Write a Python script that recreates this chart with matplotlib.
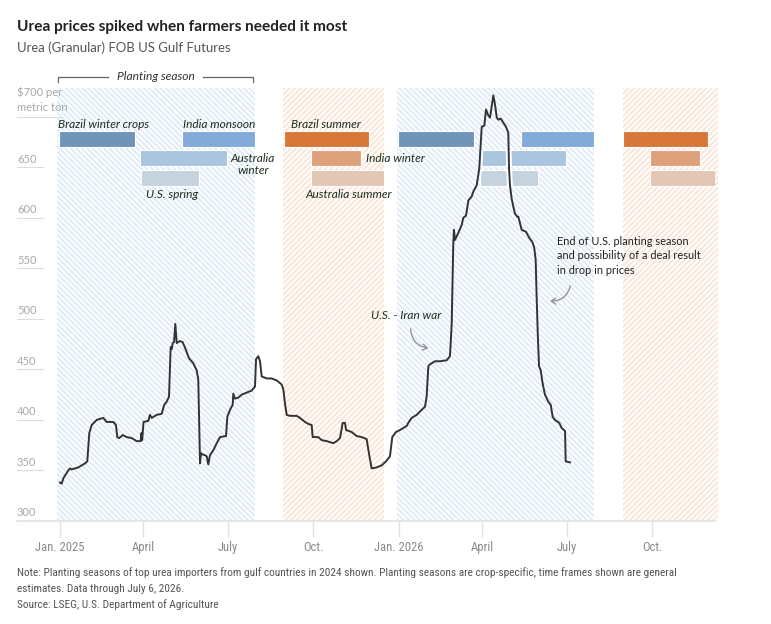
import matplotlib
matplotlib.use("Agg")
import matplotlib.pyplot as plt
import matplotlib.dates as mdates
import matplotlib.transforms as mtransforms
from matplotlib.lines import Line2D
from matplotlib.patches import FancyArrowPatch
from matplotlib import font_manager as fm
import pandas as pd

W, H = 771, 624

def pick(names):
    for n in names:
        try:
            fm.findfont(fm.FontProperties(family=n), fallback_to_default=False)
            return n
        except Exception:
            pass
    return "DejaVu Sans"

SANS = pick(["Lato", "Roboto", "Open Sans", "DejaVu Sans"])
NARROW = pick(["Liberation Sans Narrow", "Roboto Condensed", "Roboto", "DejaVu Sans"])
plt.rcParams["hatch.linewidth"] = 1.3

# ---------------- data ----------------
title = "Urea prices spiked when farmers needed it most"
subtitle = "Urea (Granular) FOB US Gulf Futures"
note = ("Note: Planting seasons of top urea importers from gulf countries in 2024 shown. "
        "Planting seasons are crop-specific, time frames shown are general")
note2 = "estimates. Data through July 6, 2026."
source = "Source: LSEG, U.S. Department of Agriculture"

base_date = pd.Timestamp("2025-01-01")
# days since Jan 1, 2025 and price ($ per metric ton)
price_days = [0.5, 2.4, 4.1, 5.9, 9.5, 11.3, 13.1, 20.2, 27.5, 29.9, 32.1, 34.7, 40.1, 47.2,
              50.8, 57.9, 60.8, 62.2, 64.4, 68.0, 72.4, 77.7, 83.1, 87.4, 88.3, 89.0, 90.5,
              95.6, 97.4, 99.3, 104.7, 110.0, 112.8, 115.4, 117.9, 119.7, 120.8, 121.9, 123.3,
              124.7, 126.2, 129.7, 132.6, 136.2, 139.4, 144.1, 147.7, 149.4, 151.3, 152.3,
              153.7, 156.7, 158.5, 160.2, 162.0, 165.6, 169.3, 172.8, 179.3, 180.7, 183.6,
              186.5, 187.1, 188.9, 192.5, 196.2, 201.6, 206.9, 210.5, 211.6, 214.0, 215.9,
              217.7, 223.1, 228.5, 233.9, 239.2, 241.0, 242.8, 244.6, 248.2, 255.4, 258.9,
              264.3, 267.9, 271.5, 272.6, 278.6, 282.3, 287.7, 294.8, 298.5, 302.0, 304.9,
              307.4, 308.5, 314.6, 320.0, 325.4, 330.7, 333.5, 336.1, 341.5, 346.9, 351.5,
              355.8, 358.3, 362.3, 366.6, 370.2, 373.8, 375.5, 379.2, 384.6, 390.0, 393.5,
              395.3, 397.1, 398.9, 404.3, 409.7, 416.9, 420.4, 421.2, 422.3, 423.3, 424.0,
              424.7, 425.8, 429.4, 433.1, 434.8, 437.7, 440.2, 443.8, 445.6, 449.2, 452.0,
              453.5, 454.6, 457.4, 459.2, 461.7, 463.5, 465.4, 467.1, 468.9, 470.8, 472.4,
              475.0, 478.6, 480.7, 483.2, 484.0, 485.0, 486.8, 489.3, 490.4, 492.9, 494.0,
              497.6, 502.3, 505.8, 509.1, 511.2, 512.7, 513.8, 514.9, 516.3, 518.1, 520.2,
              522.7, 526.3, 528.9, 531.0, 533.5, 538.1, 540.7, 544.3, 545.0, 549.6]
price_values = [338, 337, 342, 345, 350, 352, 351, 353, 357, 359, 387, 395, 400, 402,
                398, 398, 395, 383, 382, 385, 383, 382, 379, 379, 387, 380, 398,
                399, 405, 402, 405, 406, 415, 418, 423, 472, 470, 476, 477,
                495, 476, 478, 477, 469, 461, 456, 449, 440, 357, 367,
                366, 365, 364, 356, 365, 370, 377, 383, 384, 403, 410,
                415, 426, 421, 422, 425, 427, 429, 433, 460, 463, 458,
                443, 441, 441, 439, 435, 430, 416, 405, 404, 404, 402,
                398, 396, 395, 383, 383, 380, 379, 377, 379, 382, 397,
                397, 390, 388, 384, 383, 381, 365, 352, 353, 355, 359,
                364, 383, 388, 390, 392, 394, 397, 402, 405, 410, 413,
                423, 453, 455, 458, 458, 459, 463, 476, 496, 542, 575,
                588, 578, 585, 593, 600, 602, 617, 621, 626, 632, 649,
                672, 690, 691, 707, 701, 699, 711, 721, 712, 699, 697,
                698, 693, 690, 684, 649, 632, 619, 608, 604, 601, 601,
                588, 586, 580, 576, 570, 558, 519, 486, 453, 449, 436,
                425, 418, 415, 403, 400, 397, 392, 389, 359, 358]

# shaded planting-season windows
span_start = ["2024-12-29", "2025-08-30", "2025-12-30", "2026-08-31"]
span_end = ["2025-07-30", "2025-12-16", "2026-07-30", "2026-12-11"]
span_hemisphere = ["north", "south", "north", "south"]

# planting seasons (bars)
season_names = ["Brazil winter crops", "India monsoon", "Australia winter", "U.S. spring",
                "Brazil summer", "India winter", "Australia summer"]
season_start_2025 = ["2024-12-31", "2025-05-13", "2025-03-29", "2025-03-30",
                     "2025-08-31", "2025-09-29", "2025-09-29"]
season_end_2025 = ["2025-03-23", "2025-07-30", "2025-06-30", "2025-05-31",
                   "2025-11-30", "2025-11-22", "2025-12-16"]
season_start_2026 = ["2025-12-31", "2026-05-13", "2026-03-29", "2026-03-30",
                     "2026-08-31", "2026-09-29", "2026-09-29"]
season_end_2026 = ["2026-03-23", "2026-07-30", "2026-06-30", "2026-05-31",
                   "2026-11-30", "2026-11-22", "2026-12-11"]

y_ticks = [300, 350, 400, 450, 500, 550, 600, 650]
x_tick_dates = ["2025-01-01", "2025-04-01", "2025-07-01", "2025-10-01",
                "2026-01-01", "2026-04-01", "2026-07-01", "2026-10-01"]
x_tick_labels = ["Jan. 2025", "April", "July", "Oct.", "Jan. 2026", "April", "July", "Oct."]

# ---------------- styles ----------------
season_colors = {"Brazil winter crops": "#7095b8", "India monsoon": "#82abd9",
                 "Australia winter": "#aac5df", "U.S. spring": "#c5d3df",
                 "Brazil summer": "#d8773a", "India winter": "#dea17c",
                 "Australia summer": "#e3c6b3"}
season_rows = {"Brazil winter crops": (669.6, 685.3), "India monsoon": (669.6, 685.3),
               "Brazil summer": (669.6, 685.3),
               "Australia winter": (651.2, 667.0), "India winter": (651.2, 667.0),
               "U.S. spring": (631.4, 647.2), "Australia summer": (631.4, 647.2)}
span_style = {"north": ("#dfeaf7", "\\\\\\\\\\\\"), "south": ("#fae4d5", "//////")}
LABEL_C = "#1f2e1f"

def num(dates):
    return mdates.date2num(pd.to_datetime(pd.Series(dates)).dt.to_pydatetime())

def numd(days):
    return mdates.date2num((base_date + pd.to_timedelta(pd.Series(days), unit="D")).dt.to_pydatetime())

fig = plt.figure(figsize=(W / 100, H / 100), dpi=100)
ax = fig.add_axes([17 / W, 1 - 521 / H, 698 / W, (521 - 87.5) / H])
ax.set_ylim(300, 300 + 433.5 / 1.011)
x_left, x_right = numd([-45.76, 705.76])
ax.set_xlim(x_left, x_right)

# shaded windows
for s, e, hemi in zip(num(span_start), num(span_end), span_hemisphere):
    col, hatch = span_style[hemi]
    ax.axvspan(s, e, facecolor="none", edgecolor=col, hatch=hatch, lw=0,
               zorder=0, clip_on=False)

# bars
bar_patches = []
for starts, ends in [(season_start_2025, season_end_2025), (season_start_2026, season_end_2026)]:
    for name, s, e in zip(season_names, num(starts), num(ends)):
        y0, y1 = season_rows[name]
        b = ax.barh((y0 + y1) / 2, e - s, left=s, height=y1 - y0,
                    color=season_colors[name], edgecolor="white", lw=0.8, zorder=2)
        bar_patches.extend(b.patches)

# price line
xs = numd(price_days)
for p in bar_patches:
    halo, = ax.plot(xs, price_values, color="white", lw=4.2, zorder=2.5,
                    solid_joinstyle="round", solid_capstyle="round")
    halo.set_clip_path(p)
ax.plot(xs, price_values, color="#333333", lw=1.4, zorder=3, solid_joinstyle="round")

# axes styling
for sp in ["top", "right", "left"]:
    ax.spines[sp].set_visible(False)
ax.spines["bottom"].set_color("#e2e2e2")
ax.spines["bottom"].set_linewidth(1.2)
ax.set_yticks([])
ax.set_xticks(num(x_tick_dates))
ax.set_xticklabels(x_tick_labels)
ax.tick_params(axis="x", length=11.5, width=1.0, color="#e2e2e2", pad=3,
               labelcolor="#8a8a8a", labelsize=8.5)
for t in ax.get_xticklabels():
    t.set_family(NARROW)

renderer = fig.canvas.get_renderer()

def fit(t, width):
    w = t.get_window_extent(renderer).width
    if w > 0:
        t.set_fontsize(t.get_fontsize() * width / w)
    return t.get_fontsize()

def ftext(x, y, s, **kw):
    kw.setdefault("va", "baseline")
    return fig.text(x / W, 1 - y / H, s, **kw)

# tick label size
xt = ax.get_xticklabels()
xs_size = fit(xt[0], 49)
for t in xt:
    t.set_fontsize(xs_size)

# y labels and short gridlines
blend = mtransforms.blended_transform_factory(ax.transAxes, ax.transData)
ylab = []
for v in y_ticks:
    t = ax.annotate(str(v), xy=(0, v), xycoords=blend, xytext=(0, 4.5 * 0.72),
                    textcoords="offset points", ha="left", va="baseline",
                    color="#a8a8a8", family=SANS, fontsize=8)
    ylab.append(t)
    if v != 300:
        ax.plot([0, 26 / 698], [v, v], transform=blend, color="#dddddd", lw=0.8, clip_on=False)
t700b = ax.annotate("metric ton", xy=(0, 700), xycoords=blend, xytext=(0, 5.6 * 0.72),
                    textcoords="offset points", ha="left", va="baseline",
                    color="#a8a8a8", family=SANS, fontsize=8)
ysz = fit(t700b, 51)
t700a = ax.annotate("$700 per", xy=(0, 700), xycoords=blend, xytext=(0, 20.6 * 0.72),
                    textcoords="offset points", ha="left", va="baseline",
                    color="#a8a8a8", family=SANS, fontsize=ysz)
for t in ylab:
    t.set_fontsize(ysz)
ax.plot([0, 44.5 / 698], [700, 700], transform=blend, color="#dddddd", lw=0.8, clip_on=False)

# titles
tt = ftext(17.3, 30.7, title, fontsize=12, fontweight="bold", family=SANS, color="#222222")
fit(tt, 328)
st = ftext(17.3, 52.5, subtitle, fontsize=10, family=SANS, color="#555555")
fit(st, 213.7)

# planting season bracket
ps = ftext(155.8, 80.3, "Planting season", fontsize=8, family=SANS, style="italic",
           color="#333333", ha="center")
fit(ps, 78.3)
for xsx, ysx in [([58.3, 58.3, 108], [81.7, 77.3, 77.3]), ([203, 253.3, 253.3], [77.3, 77.3, 81.7])]:
    fig.add_artist(Line2D([x / W for x in xsx], [1 - y / H for y in ysx],
                          transform=fig.transFigure, color="#666666", lw=0.9))

# season labels
lab_specs = [("Brazil winter crops", 58.3, 127.8, "left"),
             ("India monsoon", 183.3, 127.8, "left"),
             ("Brazil summer", 291.0, 127.8, "left"),
             ("Australia", 252.5, 161.7, "center"),
             ("winter", 253.0, 173.8, "center"),
             ("India winter", 366.0, 161.7, "left"),
             ("U.S. spring", 172.5, 198.3, "center"),
             ("Australia summer", 349.0, 198.3, "center")]
labs = []
for s, x, y, ha in lab_specs:
    labs.append(ftext(x, y, s, fontsize=8, family=SANS, style="italic", color=LABEL_C, ha=ha))
lsz = fit(labs[-1], 86.6)
for t in labs:
    t.set_fontsize(lsz)

# annotations
iw = ftext(406.3, 319.3, "U.S. - Iran war", fontsize=lsz, family=SANS, style="italic",
           color=LABEL_C, ha="center")
ann_lines = ["End of U.S. planting season", "and possibility of a deal result", "in drop in prices"]
ann = [ftext(557.0, y, s, fontsize=8, family=SANS, color="#222222")
       for s, y in zip(ann_lines, [245.0, 259.3, 273.5])]
asz = fit(ann[1], 144)
for t in ann:
    t.set_fontsize(asz)

for (x0, y0), (x1, y1), rad in [((410.5, 326), (431, 348.5), 0.45), ((571, 283), (547.5, 301), -0.45)]:
    arr = FancyArrowPatch((x0 / W, 1 - y0 / H), (x1 / W, 1 - y1 / H), transform=fig.transFigure,
                          arrowstyle="->,head_length=3.2,head_width=2.2",
                          connectionstyle=f"arc3,rad={rad}", color="#8c8c8c", lw=0.9)
    fig.add_artist(arr)

# footnote
n1 = ftext(17.3, 575.5, note, fontsize=8, family=NARROW, color="#555555")
nsz = fit(n1, 666)
ftext(17.3, 592.0, note2, fontsize=nsz, family=NARROW, color="#555555")
ftext(17.3, 607.5, source, fontsize=nsz, family=NARROW, color="#555555")

fig.savefig("out.png", dpi=100, facecolor="white")
